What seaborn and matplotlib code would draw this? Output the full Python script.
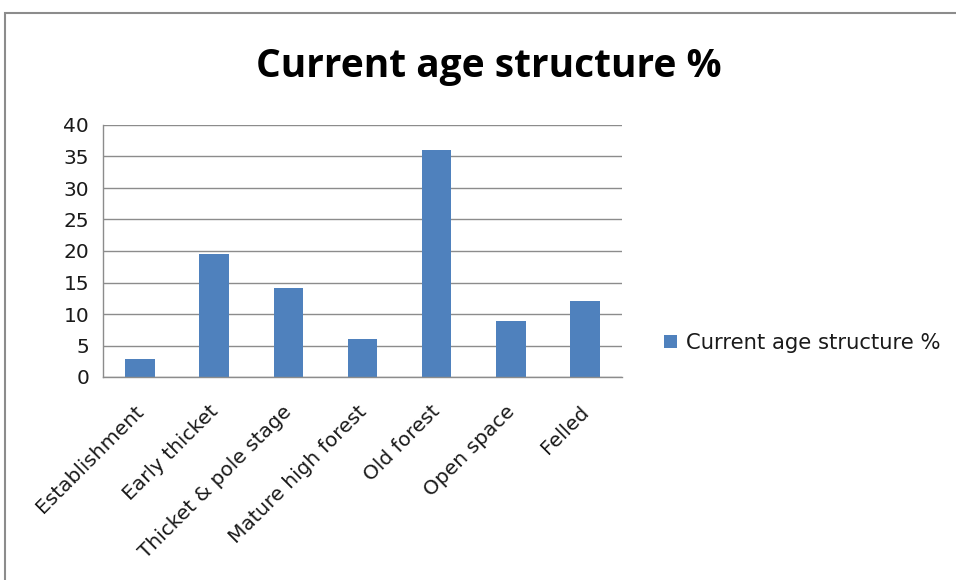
import matplotlib
matplotlib.use("Agg")
import matplotlib.pyplot as plt
from matplotlib.patches import Rectangle
from matplotlib.ticker import FixedLocator
from matplotlib.transforms import ScaledTranslation
import seaborn as sns
import pandas as pd

categories = ["Establishment", "Early thicket", "Thicket & pole stage",
              "Mature high forest", "Old forest", "Open space", "Felled"]
values = [2.9, 19.6, 14.2, 6.0, 36.0, 8.9, 12.1]
series_name = "Current age structure %"
y_ticks = [0, 5, 10, 15, 20, 25, 30, 35, 40]

sns.set_style("white")
plt.rcParams["font.family"] = ["DejaVu Sans"]

df = pd.DataFrame({"stage": categories, "pct": values})

W, H = 956, 580
fig = plt.figure(figsize=(W / 100, H / 100), dpi=100)
ax = fig.add_axes([103 / W, 1 - 377 / H, (622 - 103) / W, (377 - 125) / H])

sns.barplot(data=df, x="stage", y="pct", color="#4F81BD", width=0.4,
            saturation=1, ax=ax, label=series_name, edgecolor="none")

ax.set_xlim(-0.5, len(categories) - 0.5)
ax.set_ylim(0, 40)
ax.set_yticks(y_ticks)
ax.set_xlabel("")
ax.set_ylabel("")

grid_c = "#8C8C8C"
ax.yaxis.grid(True, color=grid_c, linewidth=1.0)
ax.set_axisbelow(True)
for s in ["top", "right"]:
    ax.spines[s].set_visible(False)
for s in ["left", "bottom"]:
    ax.spines[s].set_color(grid_c)
    ax.spines[s].set_linewidth(1.0)

# tick marks at category boundaries, labels at category centres
ax.xaxis.set_minor_locator(FixedLocator([i - 0.5 for i in range(len(categories) + 1)]))
ax.tick_params(axis="x", which="major", length=0, pad=18, labelsize=14.5)
ax.tick_params(axis="x", which="minor", length=6.5, color=grid_c, width=1)
ax.tick_params(axis="y", length=6.5, color=grid_c, width=1, labelsize=14.5, pad=3.5)
shift = ScaledTranslation(-6 / 100, 0, fig.dpi_scale_trans)
for lbl in ax.get_xticklabels():
    lbl.set_rotation(45)
    lbl.set_ha("right")
    lbl.set_rotation_mode("anchor")
    lbl.set_transform(lbl.get_transform() + shift)
for lbl in ax.get_yticklabels() + ax.get_xticklabels():
    lbl.set_color("#1A1A1A")

fig.text(489 / W, 1 - 77 / H, "Current age structure %", ha="center", va="baseline",
         fontsize=28, fontweight="bold", color="black",
         family=["Open Sans", "DejaVu Sans"])

leg = ax.legend(loc="center left", bbox_to_anchor=(664 / W, 1 - 343 / H),
                bbox_transform=fig.transFigure, frameon=False, fontsize=15.2,
                handlelength=0.62, handleheight=0.62, handletextpad=0.4,
                borderpad=0, borderaxespad=0)
for t in leg.get_texts():
    t.set_color("#1A1A1A")

# outer chart frame
fig.patches.append(Rectangle((5 / W, -0.1), 1.2, 1.1 - 13 / H, transform=fig.transFigure,
                             fill=False, edgecolor="#8C8C8C", linewidth=1.5))

fig.savefig("out.png", dpi=100, facecolor="white")
